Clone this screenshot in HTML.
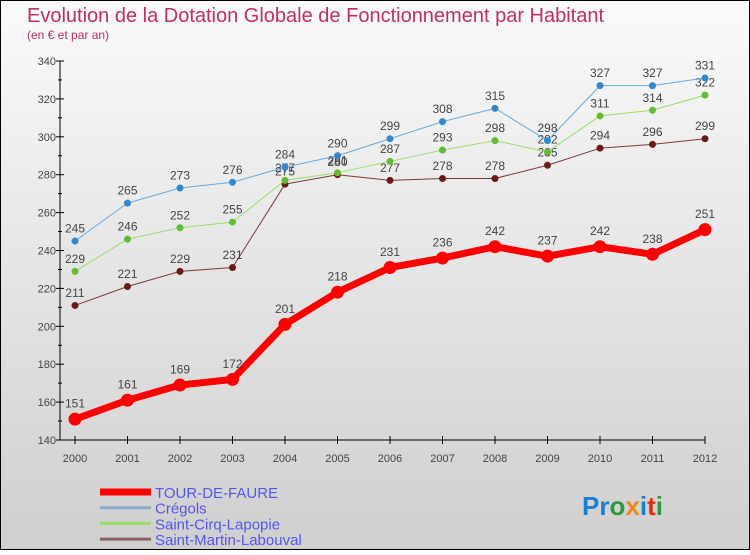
<!DOCTYPE html>
<html><head><meta charset="utf-8"><style>
html,body{margin:0;padding:0}
body{width:750px;height:550px;overflow:hidden;font-family:"Liberation Sans",sans-serif}
</style></head><body>
<svg id="chart" width="750" height="550" viewBox="0 0 750 550" xmlns="http://www.w3.org/2000/svg">
<defs><linearGradient id="bg" x1="0" y1="0" x2="0" y2="1"><stop offset="0" stop-color="#fafafa"/><stop offset="1" stop-color="#cfcfcf"/></linearGradient></defs>
<rect x="0.5" y="0.5" width="749" height="549" fill="url(#bg)" stroke="#000"/>
<text x="27" y="22" font-size="20" fill="#c0305a">Evolution de la Dotation Globale de Fonctionnement par Habitant</text>
<text x="27" y="39" font-size="12" fill="#c0305a">(en € et par an)</text>
<g id="axes"></g><g id="series"></g><g id="legend"></g>
<text x="582" y="515" font-size="26" font-weight="bold"><tspan fill="#1a7fd0">Pr</tspan><tspan fill="#2a9a3a">o</tspan><tspan fill="#f08a10">x</tspan><tspan fill="#1a7fd0">i</tspan><tspan fill="#e03010">t</tspan><tspan fill="#2a9a3a">i</tspan></text>
</svg>
<script>
const years=[2000,2001,2002,2003,2004,2005,2006,2007,2008,2009,2010,2011,2012];
const yTicks=[140,160,180,200,220,240,260,280,300,320,340];
const tourValues=[151,161,169,172,201,218,231,236,242,237,242,238,251];
const cregolsValues=[245,265,273,276,284,290,299,308,315,298,327,327,331];
const cirqValues=[229,246,252,255,277,281,287,293,298,292,311,314,322];
const martinValues=[211,221,229,231,275,280,277,278,278,285,294,296,299];
const seriesNames=["TOUR-DE-FAURE","Crégols","Saint-Cirq-Lapopie","Saint-Martin-Labouval"];
const NS="http://www.w3.org/2000/svg";
function xs(i){return 75+i*(630/(years.length-1));}
function ys(v){return 440-(v-140)*(379/200);}
function mk(tag,attrs,parent){const e=document.createElementNS(NS,tag);for(const k in attrs)e.setAttribute(k,attrs[k]);parent.appendChild(e);return e;}
const axes=document.getElementById('axes');
let a=mk('line',{x1:60,y1:61,x2:60,y2:440,stroke:'#000'},axes);


a=mk('line',{x1:60,y1:440,x2:705,y2:440,stroke:'#000'},axes);


yTicks.forEach((t,i)=>{
  const y=ys(t);
  const l=mk('line',{x1:56,y1:y,x2:64,y2:y,stroke:'#000'},axes);
  
  
  if(i<yTicks.length-1){const m=mk('line',{x1:58,y1:ys(t+10),x2:62,y2:ys(t+10),stroke:'#000'},axes);
  
  }
  const tx=mk('text',{x:56,y:y+4,'font-size':11,fill:'#444','text-anchor':'end'},axes);
  tx.textContent=t;
  
  
});
years.forEach((yr,i)=>{
  const x=xs(i);
  const l=mk('line',{x1:x,y1:436,x2:x,y2:444,stroke:'#000'},axes);
  
  
  const tx=mk('text',{x:x,y:462,'font-size':11,fill:'#444','text-anchor':'middle'},axes);
  tx.textContent=yr;
  
  
});
const sg=document.getElementById('series');
function drawSeries(vals,color,dot,width,r,name,fs){
  const g=mk('g',{},sg);
  
  
  const p=mk('polyline',{points:vals.map((v,i)=>xs(i)+','+ys(v)).join(' '),fill:'none',stroke:color,'stroke-width':width,'stroke-linejoin':'round'},g);
  
  
  vals.forEach((v,i)=>{
    const c=mk('circle',{cx:xs(i),cy:ys(v),r:r,fill:dot},g);
    
    
    const t=mk('text',{x:xs(i),y:ys(v)-r-5,'font-size':fs,fill:'#444','text-anchor':'middle'},g);
    t.textContent=v;
    
    
  });
}
drawSeries(martinValues,'#7a3a3a','#6a1a1a',1,3.5,'saint-martin-series',12);
drawSeries(cirqValues,'#99dd66','#66bb33',1,3.5,'saint-cirq-series',12);
drawSeries(cregolsValues,'#66aadd','#3388cc',1,3.5,'cregols-series',12);
drawSeries(tourValues,'#ff0000','#ff0000',7,6.5,'tour-de-faure-series',12);
const lg=document.getElementById('legend');
const lcol=['#ff0000','#88aacc','#99dd66','#8a6060'];const lw=[7,3,3,3];
seriesNames.forEach((n,i)=>{
  const y=492+i*15.7;
  const l=mk('line',{x1:100,y1:y,x2:151,y2:y,stroke:lcol[i],'stroke-width':lw[i]},lg);
  
  
  const t=mk('text',{x:155,y:y+6,'font-size':15,fill:'#5555ee'},lg);
  t.textContent=n;
  
  
});
</script>
</body></html>
